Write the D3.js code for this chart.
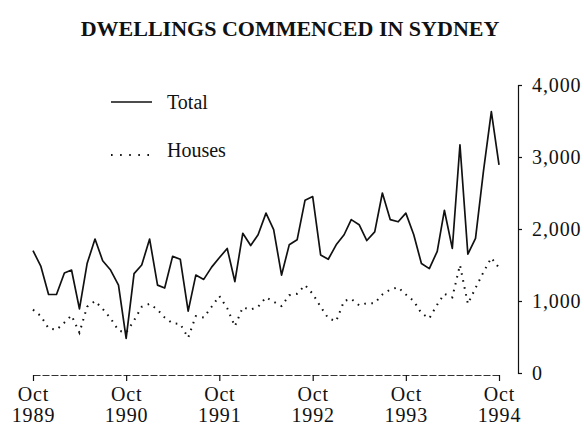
<!DOCTYPE html>
<html>
<head>
<meta charset="utf-8">
<script src="https://cdn.jsdelivr.net/npm/d3@7"></script>
<style>
  html, body { margin: 0; padding: 0; background: #fff; }
  svg { display: block; }
  text { font-family: "Liberation Serif", "Times New Roman", serif; fill: #111; }
</style>
</head>
<body>
<svg id="chart" width="584" height="430"></svg>
<script>
// ---- data (monthly, Oct 1989 .. Oct 1994) ----
const startYear = 1989, startMonth = 9; // October (0-based)
const totalValues = [1700,1480,1090,1090,1390,1430,890,1520,1860,1560,1430,1220,480,
  1380,1500,1860,1220,1180,1620,1580,860,1360,1300,1470,1600,
  1730,1270,1940,1770,1920,2220,1990,1360,1780,1850,2400,2450,
  1640,1580,1780,1920,2130,2060,1840,1960,2500,2130,2100,2220,
  1920,1520,1450,1690,2260,1730,3170,1650,1870,2800,3630,2890];
const housesValues = [880,790,620,600,700,800,560,920,1000,890,760,590,560,
  730,920,960,880,770,690,680,490,790,770,920,1070,
  900,650,910,880,920,1050,990,930,1080,1100,1220,1100,
  920,760,720,1000,1030,940,970,970,1090,1160,1190,1090,
  1000,830,760,950,1100,1050,1500,960,1180,1400,1600,1460];
const yTicks = [0, 1000, 2000, 3000, 4000];
const xTickMonths = ["Oct","Oct","Oct","Oct","Oct","Oct"];
const xTickYears = ["1989","1990","1991","1992","1993","1994"];
const seriesNames = ["Total", "Houses"];
const title = "DWELLINGS COMMENCED IN SYDNEY";

const dates = totalValues.map((_, i) => new Date(startYear, startMonth + i, 1));
const tickDates = xTickYears.map(y => new Date(+y, 9, 1));

const svg = d3.select("#chart");

const x = d3.scaleTime()
  .domain([dates[0], dates[dates.length - 1]])
  .range([33, 499]);
const y = d3.scaleLinear().domain([0, 4000]).range([373, 85]);

// title
svg.append("text")
  .attr("x", 290).attr("y", 36)
  .attr("text-anchor", "middle")
  .attr("font-size", 22).attr("font-weight", "bold")
  .text(title);

// right y axis
const yAxis = d3.axisRight(y).tickValues(yTicks).tickSize(4).tickPadding(10)
  .tickFormat(d3.format(","));
const gy = svg.append("g").attr("transform", "translate(518,0)").call(yAxis);
gy.select(".domain").attr("stroke", "#111").attr("stroke-width", 1.2);
gy.selectAll(".tick line").attr("stroke", "#111").attr("stroke-width", 1.2);
gy.selectAll(".tick text")
  .attr("font-family", "'Liberation Serif', 'Times New Roman', serif")
  .attr("font-size", 20).attr("letter-spacing", "0.9px").attr("fill", "#111");

// bottom x axis
const xAxis = d3.axisBottom(x).tickValues(tickDates).tickSize(6).tickSizeOuter(0)
  .tickFormat(() => "");
const gx = svg.append("g").attr("transform", "translate(0,375)").call(xAxis);
gx.select(".domain").attr("stroke", "#333").attr("stroke-width", 1).attr("stroke-dasharray", "7,2");
gx.selectAll(".tick line").attr("stroke", "#111").attr("stroke-width", 1.2);
gx.selectAll(".tick").each(function(d, i) {
  const t = d3.select(this);
  t.append("text").attr("y", 26).attr("text-anchor", "middle")
    .attr("font-size", 20).attr("letter-spacing", "0.8px").attr("fill", "#111").text(xTickMonths[i]);
  t.append("text").attr("y", 47).attr("text-anchor", "middle")
    .attr("font-size", 20).attr("letter-spacing", "0.9px").attr("fill", "#111").text(xTickYears[i]);
});

// lines
const line = d3.line().x((d, i) => x(dates[i])).y(d => y(d));
svg.append("path").datum(housesValues)
  .attr("d", line).attr("fill", "none")
  .attr("stroke", "#111").attr("stroke-width", 2)
  .attr("stroke-dasharray", "1.6,5.5");
svg.append("path").datum(totalValues)
  .attr("d", line).attr("fill", "none")
  .attr("stroke", "#111").attr("stroke-width", 1.7)
  .attr("stroke-linejoin", "round");

// legend
const lg = svg.append("g");
lg.append("line").attr("x1", 111).attr("x2", 152).attr("y1", 102).attr("y2", 102)
  .attr("stroke", "#111").attr("stroke-width", 1.5);
lg.append("text").attr("x", 167).attr("y", 109).attr("font-size", 20).text(seriesNames[0]);
lg.append("line").attr("x1", 111).attr("x2", 150).attr("y1", 155).attr("y2", 155)
  .attr("stroke", "#111").attr("stroke-width", 2).attr("stroke-dasharray", "1.6,7.5");
lg.append("text").attr("x", 167).attr("y", 157).attr("font-size", 20).text(seriesNames[1]);
</script>
</body>
</html>
